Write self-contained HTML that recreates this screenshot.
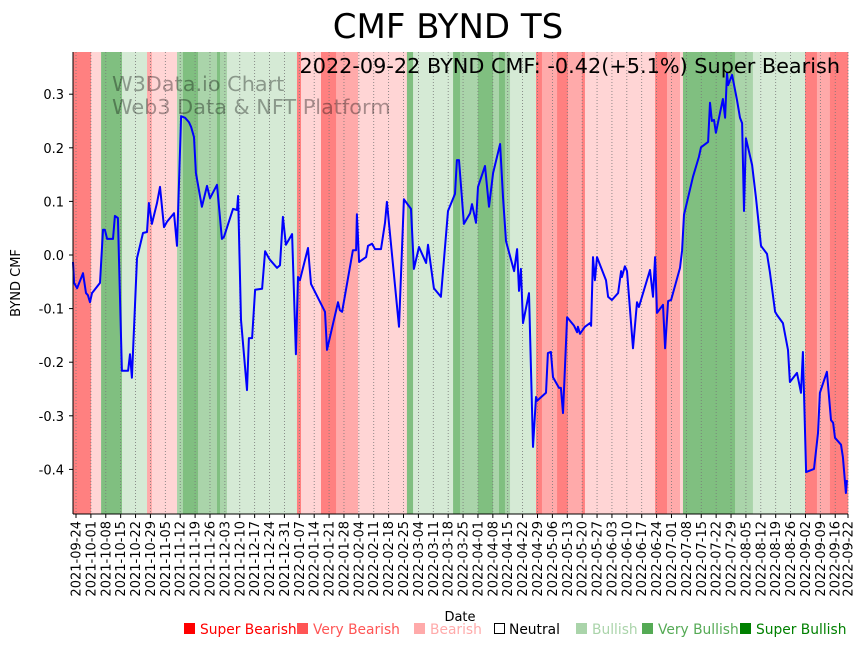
<!DOCTYPE html>
<html><head><meta charset="utf-8">
<style>
html,body{margin:0;padding:0;background:#fff;}
svg{display:block;font-family:"DejaVu Sans","Liberation Sans",sans-serif;}
</style></head>
<body>
<svg id="chart" width="867" height="646" viewBox="0 0 867 646" xmlns="http://www.w3.org/2000/svg">
  <text x="448" y="38" text-anchor="middle" font-size="34" fill="#000">CMF BYND TS</text>
  <g id="bands"></g>
  <g id="grid"></g>
  <g id="watermark">
    <text x="112" y="91" font-size="20.8" fill="#000" fill-opacity="0.35">W3Data.io Chart</text>
    <text x="112" y="114" font-size="20.8" fill="#000" fill-opacity="0.35">Web3 Data &amp; NFT Platform</text>
  </g>
  <path id="line" fill="none" stroke="#0000ff" stroke-width="2" stroke-linejoin="round"></path>
  <text x="840" y="73" text-anchor="end" font-size="20.8" fill="#000">2022-09-22 BYND CMF: -0.42(+5.1%) Super Bearish</text>
  <g id="yaxis"></g>
  <g id="xaxis"></g>
  <line x1="73" y1="52" x2="73" y2="514" stroke="#000" stroke-width="1"></line>
  <line x1="73" y1="514" x2="848" y2="514" stroke="#000" stroke-width="1"></line>
  <text transform="translate(20,283) rotate(-90)" text-anchor="middle" font-size="13">BYND CMF</text>
  <text x="460" y="621" text-anchor="middle" font-size="13">Date</text>
  <g id="legend" font-size="13.8">
    <g><rect x="184" y="623" width="11" height="11" fill="#ff0000"/><text x="200" y="634" fill="#ff0000">Super Bearish</text></g>
    <g><rect x="297" y="623" width="11" height="11" fill="#ff5555"/><text x="313" y="634" fill="#ff5555">Very Bearish</text></g>
    <g><rect x="414" y="623" width="11" height="11" fill="#ffaaaa"/><text x="430" y="634" fill="#ffaaaa">Bearish</text></g>
    <g><rect x="494.5" y="623.5" width="10" height="10" fill="none" stroke="#000"/><text x="509" y="634" fill="#000">Neutral</text></g>
    <g><rect x="576" y="623" width="11" height="11" fill="#aad4aa"/><text x="592" y="634" fill="#aad4aa">Bullish</text></g>
    <g><rect x="642" y="623" width="11" height="11" fill="#55aa55"/><text x="658" y="634" fill="#55aa55">Very Bullish</text></g>
    <g><rect x="740" y="623" width="11" height="11" fill="#008000"/><text x="756" y="634" fill="#008000">Super Bullish</text></g>
  </g>
</svg>
<script>
// days since 2021-09-24
const days = [-1.4,-0.9,0.5,3.3,4.7,5.6,6.6,7.5,11.3,12.7,13.6,14.6,17.4,18.3,19.7,21.6,24.5,25.4,26.3,28.7,31.5,33.4,34.3,35.7,38.1,39.5,41.4,42.8,46.1,47.5,49.4,51.3,53.1,54.1,55.5,56.4,59.2,61.6,63.0,66.3,68.6,69.6,73.8,75.7,76.2,77.6,80.4,81.3,82.8,84.2,87.5,88.9,90.7,91.2,94.5,95.9,97.3,98.7,101.6,103.4,104.4,105.3,109.1,110.5,117.1,118.0,123.2,124.1,125.1,130.2,131.7,132.1,133.1,136.4,137.3,139.2,140.6,143.4,145.3,146.2,151.9,154.2,157.5,158.9,161.3,164.6,165.5,168.3,171.6,174.9,178.2,179.1,180.1,182.4,185.3,186.2,188.1,189.0,192.3,194.2,196.1,199.4,200.8,202.2,206.0,207.4,208.3,209.2,210.2,213.0,214.9,216.3,216.8,221.0,221.9,223.3,224.3,227.1,228.0,229.0,230.9,234.2,235.6,236.0,237.0,239.3,241.7,242.2,243.1,244.0,245.0,249.2,250.2,252.0,254.9,256.3,256.7,258.1,259.1,261.9,263.8,264.7,269.9,271.3,272.3,273.2,276.0,277.0,278.4,279.8,284.0,285.0,285.9,290.1,292.9,293.9,297.2,298.1,299.0,300.0,300.9,304.2,305.2,306.1,306.6,308.5,310.8,312.2,313.2,314.1,315.0,317.9,319.7,322.1,324.9,326.3,328.7,329.6,332.4,334.8,335.7,339.0,340.9,341.8,343.3,347.0,348.9,349.8,353.1,355.0,356.0,356.9,359.7,360.6,362.0,362.5];
const cmf = [-0.013,-0.052,-0.062,-0.034,-0.071,-0.075,-0.088,-0.071,-0.052,0.047,0.047,0.030,0.030,0.073,0.069,-0.216,-0.216,-0.185,-0.229,-0.006,0.041,0.043,0.097,0.058,0.097,0.127,0.052,0.062,0.078,0.017,0.259,0.256,0.248,0.239,0.220,0.153,0.090,0.129,0.106,0.131,0.030,0.034,0.086,0.084,0.110,-0.121,-0.252,-0.155,-0.155,-0.065,-0.063,0.007,-0.006,-0.009,-0.024,-0.019,0.071,0.019,0.039,-0.185,-0.041,-0.047,0.013,-0.054,-0.106,-0.177,-0.088,-0.103,-0.106,0.009,0.009,0.076,-0.013,-0.004,0.017,0.021,0.011,0.011,0.060,0.099,-0.134,0.104,0.086,-0.026,0.015,-0.015,0.019,-0.062,-0.078,0.082,0.114,0.177,0.177,0.058,0.078,0.095,0.060,0.127,0.166,0.090,0.153,0.207,0.108,0.026,-0.030,0.011,-0.067,-0.026,-0.127,-0.071,-0.358,-0.265,-0.272,-0.257,-0.183,-0.181,-0.228,-0.248,-0.248,-0.295,-0.116,-0.132,-0.144,-0.134,-0.147,-0.134,-0.127,-0.132,-0.004,-0.047,-0.004,-0.047,-0.078,-0.084,-0.071,-0.030,-0.041,-0.021,-0.030,-0.174,-0.088,-0.097,-0.028,-0.078,-0.004,-0.108,-0.093,-0.174,-0.086,-0.084,-0.024,0.009,0.075,0.146,0.183,0.201,0.211,0.284,0.250,0.252,0.228,0.291,0.256,0.340,0.317,0.336,0.289,0.256,0.246,0.082,0.218,0.168,0.108,0.017,0.002,-0.032,-0.106,-0.112,-0.127,-0.177,-0.237,-0.220,-0.257,-0.181,-0.405,-0.399,-0.332,-0.257,-0.218,-0.308,-0.313,-0.341,-0.354,-0.377,-0.444,-0.420];
// signal bands: start day, end day, category (0 super bearish .. 6 super bullish)
const bandStart = [-1.4,7.1,11.8,21.6,33.4,35.7,47.5,50.3,57.4,66.3,67.7,71.0,103.9,105.8,115.2,122.3,132.6,155.6,158.5,177.3,180.6,189.0,196.1,198.9,201.7,204.1,216.3,219.1,226.2,231.3,237.9,239.3,272.3,277.9,284.0,285.4,309.9,318.3,342.8,348.4,354.5];
const bandEnd   = [7.1,11.8,21.6,33.4,35.7,47.5,50.3,57.4,66.3,67.7,71.0,103.9,105.8,115.2,122.3,132.6,155.6,158.5,177.3,180.6,189.0,196.1,198.9,201.7,204.1,216.3,219.1,226.2,231.3,237.9,239.3,272.3,277.9,284.0,285.4,309.9,318.3,342.8,348.4,354.5,363.0];
const bandCat   = [0,2,6,4,1,2,5,6,5,6,5,4,0,2,0,1,2,6,4,6,5,6,5,6,5,4,0,1,0,1,0,2,0,1,2,6,5,4,0,1,0];
const catNames = ['super-bearish','very-bearish','bearish','neutral','bullish','very-bullish','super-bullish'];
const yTicks = [0.3,0.2,0.1,0.0,-0.1,-0.2,-0.3,-0.4];
// x tick positions in days since 2021-09-24 (weekly, plus final date)
const xTickDays = [0,7,14,21,28,35,42,49,56,63,70,77,84,91,98,105,112,119,126,133,140,147,154,161,168,175,182,189,196,203,210,217,224,231,238,245,252,259,266,273,280,287,294,301,308,315,322,329,336,343,350,357,363];

const NS = 'http://www.w3.org/2000/svg';
const catColors = ['#ff8080','#ffaaaa','#ffd5d5','#ffffff','#d5ead5','#aad4aa','#80bf80'];
const x = d => 76 + d * (772 / 363);
const y = v => 255 - v * 536;
const base = new Date(Date.UTC(2021, 8, 24));

const bands = document.getElementById('bands');
for (let i = 0; i < bandStart.length; i++) {
  const r = document.createElementNS(NS, 'rect');
  
  
  r.setAttribute('x', x(bandStart[i]));
  r.setAttribute('width', Math.max(0, x(bandEnd[i]) - x(bandStart[i])) + 0.3);
  r.setAttribute('y', 52);
  r.setAttribute('height', 462);
  r.setAttribute('fill', catColors[bandCat[i]]);
  bands.appendChild(r);
}

const grid = document.getElementById('grid');
const xaxis = document.getElementById('xaxis');
xTickDays.forEach(d => {
  const px = x(d);
  const gl = document.createElementNS(NS, 'line');
  
  
  gl.setAttribute('x1', px); gl.setAttribute('x2', px);
  gl.setAttribute('y1', 52); gl.setAttribute('y2', 514);
  gl.setAttribute('stroke', '#777'); gl.setAttribute('stroke-width', '0.8');
  gl.setAttribute('stroke-dasharray', '1,2');
  grid.appendChild(gl);
  const tk = document.createElementNS(NS, 'line');
  
  
  tk.setAttribute('x1', px); tk.setAttribute('x2', px);
  tk.setAttribute('y1', 514); tk.setAttribute('y2', 518);
  tk.setAttribute('stroke', '#000');
  xaxis.appendChild(tk);
  const dt = new Date(base.getTime() + d * 86400000);
  const t = document.createElementNS(NS, 'text');
  
  
  t.setAttribute('transform', 'translate(' + (px + 4.5) + ',521) rotate(-90)');
  t.setAttribute('text-anchor', 'end');
  t.setAttribute('font-size', '13');
  t.textContent = dt.toISOString().slice(0, 10);
  xaxis.appendChild(t);
});

const yaxis = document.getElementById('yaxis');
yTicks.forEach(v => {
  const py = y(v);
  const tk = document.createElementNS(NS, 'line');
  
  
  tk.setAttribute('x1', 69); tk.setAttribute('x2', 73);
  tk.setAttribute('y1', py); tk.setAttribute('y2', py);
  tk.setAttribute('stroke', '#000');
  yaxis.appendChild(tk);
  const t = document.createElementNS(NS, 'text');
  
  
  t.setAttribute('x', 64); t.setAttribute('y', py + 5);
  t.setAttribute('text-anchor', 'end');
  t.setAttribute('font-size', '13');
  t.textContent = v.toFixed(1);
  yaxis.appendChild(t);
});

let dpath = '';
for (let i = 0; i < days.length; i++) {
  dpath += (i ? 'L' : 'M') + Math.max(73, x(days[i])).toFixed(1) + ',' + y(cmf[i]).toFixed(1);
}
document.getElementById('line').setAttribute('d', dpath);
</script>
</body></html>
